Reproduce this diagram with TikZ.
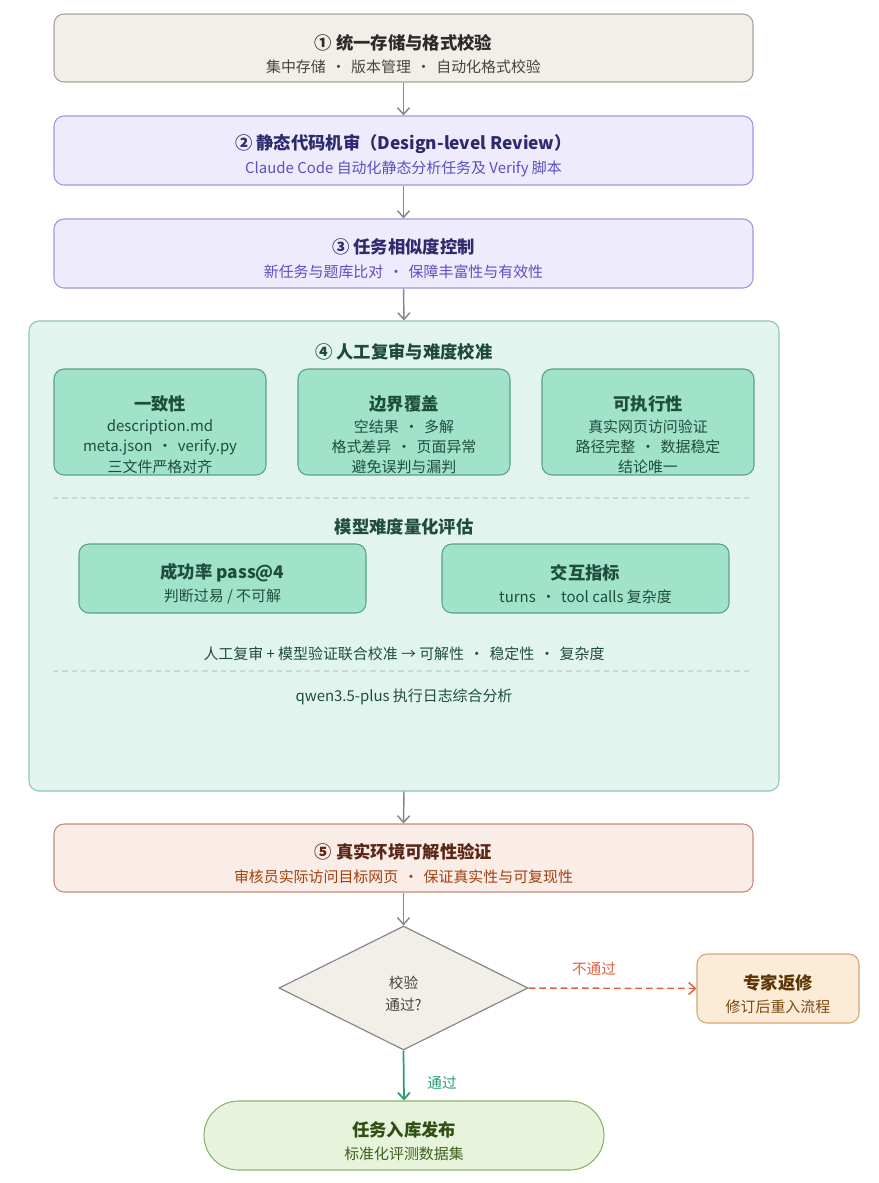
\documentclass[tikz,border=0pt]{standalone}
\usepackage{fontspec}
\setmainfont{Noto Sans CJK SC}
\usetikzlibrary{arrows.meta,shapes.geometric}
\definecolor{b1fill}{HTML}{F2EFE8}\definecolor{b1draw}{HTML}{A8A398}
\definecolor{b1title}{HTML}{2B2B2B}\definecolor{b1sub}{HTML}{444444}
\definecolor{pfill}{HTML}{EEECFC}\definecolor{pdraw}{HTML}{A097E2}
\definecolor{ptitle}{HTML}{2D2A6E}\definecolor{psub}{HTML}{5A4FC4}
\definecolor{gfill}{HTML}{E2F4EE}\definecolor{gdraw}{HTML}{8CC4AC}
\definecolor{gtitle}{HTML}{1D4A3A}
\definecolor{sfill}{HTML}{A1E2CB}\definecolor{sdraw}{HTML}{5AA386}
\definecolor{stext}{HTML}{1F4D3C}\definecolor{gdash}{HTML}{C6DDD4}
\definecolor{rfill}{HTML}{FAECE6}\definecolor{rdraw}{HTML}{C68A78}
\definecolor{rtitle}{HTML}{5B2615}\definecolor{rsub}{HTML}{A0410F}
\definecolor{efill}{HTML}{FCEBD6}\definecolor{edraw}{HTML}{D0A878}
\definecolor{etitle}{HTML}{5C3507}\definecolor{esub}{HTML}{7A4A12}
\definecolor{ffill}{HTML}{E8F3DB}\definecolor{fdraw}{HTML}{8DB26E}
\definecolor{ftitle}{HTML}{2F4F14}\definecolor{fsub}{HTML}{3F6020}
\definecolor{arrgray}{HTML}{888888}
\definecolor{redarr}{HTML}{E0603E}\definecolor{greenarr}{HTML}{2A9D78}
\newcommand{\sepdot}{\hspace{0.35em}·\hspace{0.35em}}
\tikzset{
  box/.style={rounded corners=7.5pt, line width=0.8pt, inner sep=0pt},
  ttl/.style={font=\fontsize{13}{15}\selectfont\bfseries, inner sep=0pt},
  sbt/.style={font=\fontsize{11.2}{13}\selectfont, inner sep=0pt},
  flow/.style={draw=arrgray, line width=1.1pt, -{Straight Barb[length=5pt,width=9pt]}},
}
\begin{document}
\begin{tikzpicture}[x=0.75pt,y=-0.75pt]
\useasboundingbox (0,0) rectangle (879,1183);
% box 1
\node[box, fill=b1fill, draw=b1draw, minimum width=524.25pt, minimum height=51pt] (b1) at (403.5,48) {};
\node[ttl, text=b1title] (b1t) at (403.5,43) {① 统一存储与格式校验};
\node[sbt, text=b1sub] (b1s) at (403.5,67) {集中存储\sepdot 版本管理\sepdot 自动化格式校验};
% box 2
\node[box, fill=pfill, draw=pdraw, minimum width=524.25pt, minimum height=51.75pt] (b2) at (403.5,150.5) {};
\node[ttl, text=ptitle] (b2t) at (403.5,144) {② 静态代码机审（Design-level Review）};
\node[sbt, text=psub] (b2s) at (403.5,169) {Claude Code 自动化静态分析任务及 Verify 脚本};
% box 3
\node[box, fill=pfill, draw=pdraw, minimum width=524.25pt, minimum height=51.75pt] (b3) at (403.5,253.5) {};
\node[ttl, text=ptitle] (b3t) at (403.5,247) {③ 任务相似度控制};
\node[sbt, text=psub] (b3s) at (403.5,272) {新任务与题库比对\sepdot 保障丰富性与有效性};
% box 4 container
\node[box, fill=gfill, draw=gdraw, minimum width=562.5pt, minimum height=352.5pt] (b4) at (404,556) {};
\node[ttl, text=gtitle] (b4t) at (404,352) {④ 人工复审与难度校准};
% sub boxes
\foreach \n/\cx in {s1/160,s2/404,s3/648}{
  \node[box, fill=sfill, draw=sdraw, minimum width=159pt, minimum height=79.5pt] (\n) at (\cx,422) {};
}
\node[ttl, text=stext] (s1t) at (160,404) {一致性};
\node[sbt, text=stext] (s1a) at (160,427) {description.md};
\node[sbt, text=stext] (s1b) at (160,447) {meta.json\sepdot verify.py};
\node[sbt, text=stext] (s1c) at (160,467) {三文件严格对齐};
\node[ttl, text=stext] (s2t) at (404,404) {边界覆盖};
\node[sbt, text=stext] (s2a) at (404,427) {空结果\sepdot 多解};
\node[sbt, text=stext] (s2b) at (404,447) {格式差异\sepdot 页面异常};
\node[sbt, text=stext] (s2c) at (404,467) {避免误判与漏判};
\node[ttl, text=stext] (s3t) at (648,404) {可执行性};
\node[sbt, text=stext] (s3a) at (648,427) {真实网页访问验证};
\node[sbt, text=stext] (s3b) at (648,447) {路径完整\sepdot 数据稳定};
\node[sbt, text=stext] (s3c) at (648,467) {结论唯一};
\coordinate (d1a) at (53,498); \coordinate (d1b) at (751,498);
\draw[gdash, line width=0.8pt, dash pattern=on 4pt off 3pt] (d1a) -- (d1b);
\node[ttl, text=stext] (mt) at (404,527) {模型难度量化评估};
\node[box, fill=sfill, draw=sdraw, minimum width=215.25pt, minimum height=51.75pt] (m1) at (222.5,578.5) {};
\node[box, fill=sfill, draw=sdraw, minimum width=215.25pt, minimum height=51.75pt] (m2) at (585.5,578.5) {};
\node[ttl, text=stext] (m1t) at (222.5,573) {成功率 pass@4};
\node[sbt, text=stext] (m1s) at (222.5,597) {判断过易 / 不可解};
\node[ttl, text=stext] (m2t) at (585.5,573) {交互指标};
\node[sbt, text=stext] (m2s) at (585.5,597) {turns\sepdot tool calls 复杂度};
\node[sbt, text=stext] (cal) at (404,654) {人工复审 + 模型验证联合校准 → 可解性\sepdot 稳定性\sepdot 复杂度};
\coordinate (d2a) at (53,671); \coordinate (d2b) at (751,671);
\draw[gdash, line width=0.8pt, dash pattern=on 4pt off 3pt] (d2a) -- (d2b);
\node[sbt, text=stext] (qw) at (404,697) {qwen3.5-plus 执行日志综合分析};
% box 5
\node[box, fill=rfill, draw=rdraw, minimum width=524.25pt, minimum height=51pt] (b5) at (403.5,858) {};
\node[ttl, text=rtitle] (b5t) at (403.5,852) {⑤ 真实环境可解性验证};
\node[sbt, text=rsub] (b5s) at (403.5,877) {审核员实际访问目标网页\sepdot 保证真实性与可复现性};
% diamond
\node[diamond, fill=b1fill, draw=arrgray, line width=0.9pt, minimum width=186.75pt, minimum height=93pt, inner sep=0pt] (dec) at (403.5,988) {};
\node[sbt, text=b1sub, font=\fontsize{11}{13}\selectfont] (dect1) at (403.5,983) {校验};
\node[sbt, text=b1sub, font=\fontsize{11}{13}\selectfont] (dect2) at (403.5,1005) {通过?};
% expert
\node[box, fill=efill, draw=edraw, minimum width=121.5pt, minimum height=51.75pt] (ex) at (778,988.5) {};
\node[ttl, text=etitle] (ext) at (778,983) {专家返修};
\node[sbt, text=esub] (exs) at (778,1007) {修订后重入流程};
% final
\node[rounded corners=25.875pt, line width=0.8pt, inner sep=0pt, fill=ffill, draw=fdraw, minimum width=300pt, minimum height=51.75pt] (fin) at (404,1135.5) {};
\node[ttl, text=ftitle] (fint) at (404,1130) {任务入库发布};
\node[sbt, text=fsub] (fins) at (404,1154) {标准化评测数据集};
% connectors
\draw[flow] (b1.south) -- (b2.north);
\draw[flow] (b2.south) -- (b3.north);
\draw[flow] (b3.south) -- (b4.north);
\draw[flow] (b4.south) -- (b5.north);
\draw[flow] (b5.south) -- (dec.north);
\draw[draw=redarr, line width=1.1pt, dash pattern=on 5pt off 3pt, -{Straight Barb[length=5pt,width=9pt]}] (dec.east) -- (ex.west);
\node[sbt, text=redarr, font=\fontsize{11}{13}\selectfont] (nolbl) at (594,969) {不通过};
\draw[draw=greenarr, line width=1.3pt, -{Straight Barb[length=5pt,width=9pt]}] (dec.south) -- (fin.north);
\node[sbt, text=greenarr, font=\fontsize{11}{13}\selectfont] (yeslbl) at (442,1083) {通过};
\end{tikzpicture}
\end{document}
